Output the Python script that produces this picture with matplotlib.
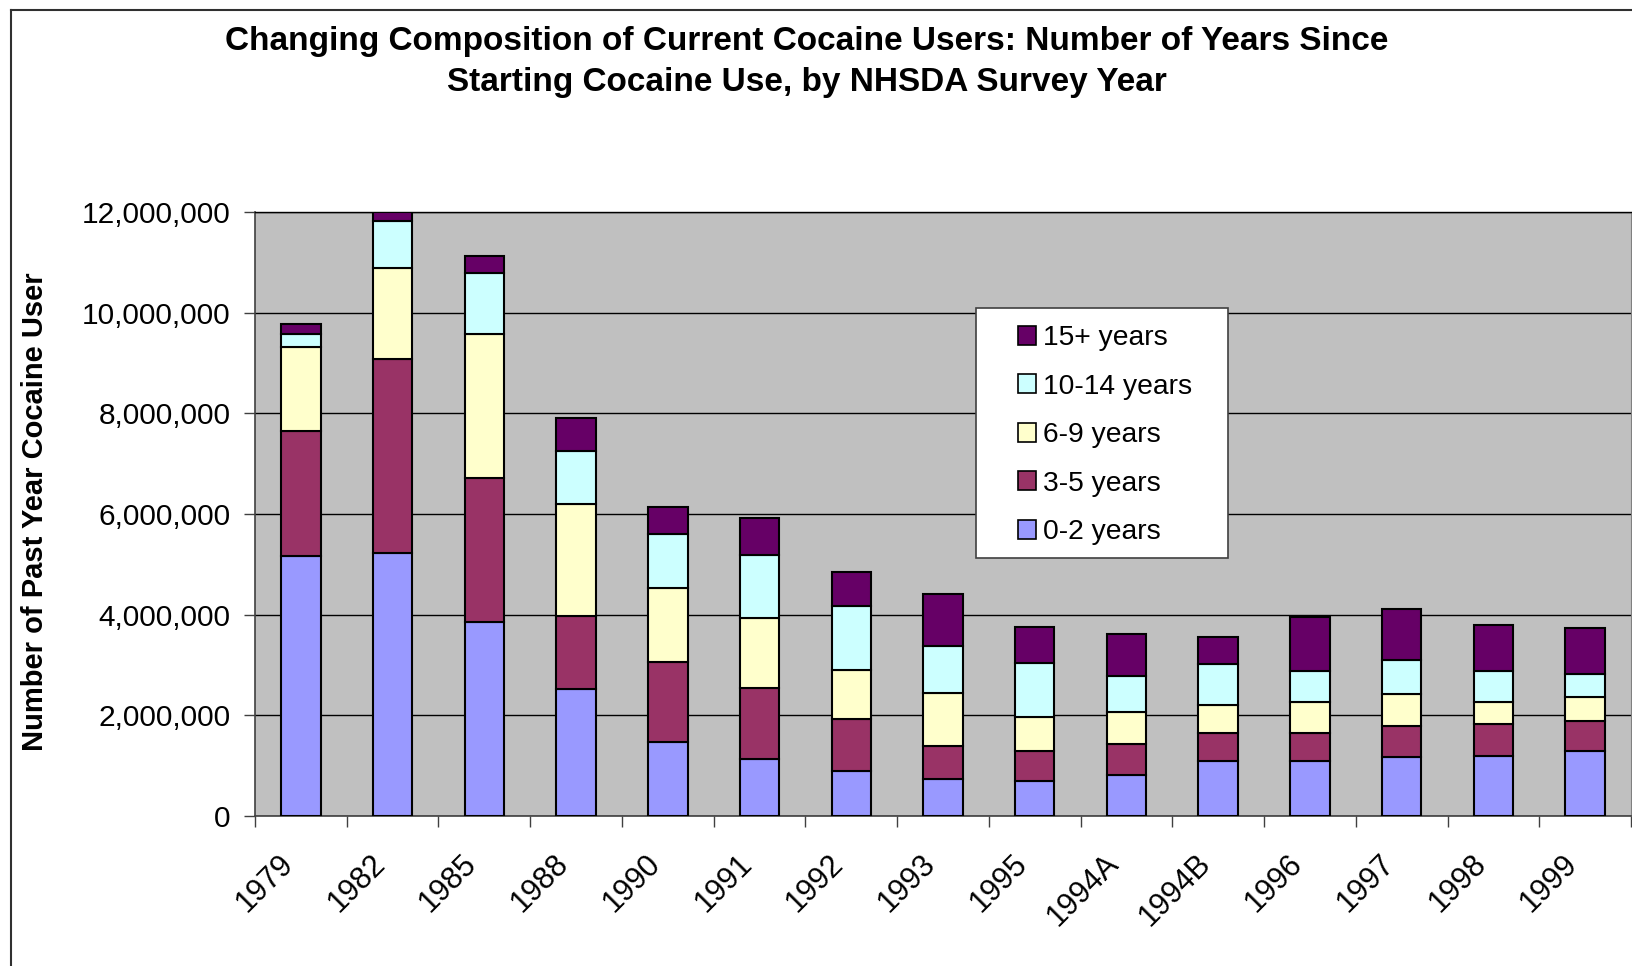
import numpy as np
import matplotlib
matplotlib.use('Agg')
import matplotlib.pyplot as plt
from matplotlib.patches import Rectangle, Patch
from matplotlib.lines import Line2D
from matplotlib.transforms import ScaledTranslation, Bbox

plt.rcParams['font.family'] = ['Liberation Sans', 'DejaVu Sans']

# survey years (category order as in the chart)
years = ['1979', '1982', '1985', '1988', '1990', '1991', '1992', '1993',
         '1995', '1994A', '1994B', '1996', '1997', '1998', '1999']

# number of past year cocaine users, by years since first use
yrs_0_2 = [5.16e6, 5.23e6, 3.86e6, 2.52e6, 1.48e6, 1.13e6, 0.90e6, 0.73e6,
           0.70e6, 0.82e6, 1.10e6, 1.10e6, 1.17e6, 1.20e6, 1.30e6]
yrs_3_5 = [2.49e6, 3.85e6, 2.86e6, 1.45e6, 1.58e6, 1.41e6, 1.03e6, 0.66e6,
           0.60e6, 0.61e6, 0.54e6, 0.54e6, 0.62e6, 0.63e6, 0.59e6]
yrs_6_9 = [1.67e6, 1.81e6, 2.86e6, 2.23e6, 1.47e6, 1.40e6, 0.98e6, 1.05e6,
           0.67e6, 0.64e6, 0.56e6, 0.62e6, 0.64e6, 0.43e6, 0.48e6]
yrs_10_14 = [0.26e6, 0.93e6, 1.20e6, 1.06e6, 1.07e6, 1.25e6, 1.26e6, 0.93e6,
             1.06e6, 0.71e6, 0.82e6, 0.63e6, 0.67e6, 0.63e6, 0.45e6]
yrs_15_plus = [0.20e6, 0.18e6, 0.34e6, 0.65e6, 0.54e6, 0.73e6, 0.68e6, 1.05e6,
               0.72e6, 0.83e6, 0.54e6, 1.07e6, 1.01e6, 0.91e6, 0.92e6]

series = [('0-2 years', yrs_0_2, '#9999FF'),
          ('3-5 years', yrs_3_5, '#993366'),
          ('6-9 years', yrs_6_9, '#FFFFCC'),
          ('10-14 years', yrs_10_14, '#CCFFFF'),
          ('15+ years', yrs_15_plus, '#660066')]

W, H = 1632, 966
fig = plt.figure(figsize=(W / 100, H / 100), dpi=100)
ax = fig.add_axes([255 / W, 1 - 816 / H, 1376 / W, (816 - 212) / H])
ax.set_facecolor('#C0C0C0')

x = np.arange(len(years))
bottom = np.zeros(len(years))
for name, vals, col in series:
    ax.bar(x, vals, 0.43, bottom=bottom, color=col, edgecolor='black',
           linewidth=1.5, label=name, zorder=3)
    bottom += np.array(vals)

ax.set_xlim(-0.5, len(years) - 0.5)
ax.set_ylim(0, 12e6)
yt = np.arange(0, 12e6 + 1, 2e6)
ax.set_yticks(yt)
ax.set_yticklabels([f'{int(v):,}' for v in yt], fontsize=21.5)
ax.yaxis.grid(True, color='black', linewidth=1.0, zorder=1)
ax.set_axisbelow(True)

# labels at category centers, tick marks at category boundaries
ax.set_xticks(x)
ax.set_xticklabels(years, fontsize=22, rotation=45, ha='right', va='center',
                   rotation_mode='anchor')
ax.set_xticks(np.arange(len(years) + 1) - 0.5, minor=True)
ax.tick_params(axis='x', which='major', length=0, pad=31)
ax.tick_params(axis='x', which='minor', length=8, width=1, color='#404040', direction='out')
ax.tick_params(axis='y', length=8, width=1, color='#404040', pad=9.5)
shift = ScaledTranslation(-12 / 100, 0, fig.dpi_scale_trans)
for lab in ax.get_xticklabels():
    lab.set_transform(lab.get_transform() + shift)

for s in ['left', 'bottom']:
    ax.spines[s].set_color('#404040')
    ax.spines[s].set_linewidth(1.2)
ax.spines['top'].set_color('black')
ax.spines['top'].set_linewidth(1.0)
ax.spines['right'].set_color('#808080')

# y label (clipped at the top like the original)
ylab = fig.text(35 / W, 1 - 751 / H, 'Number of Past Year Cocaine Users',
                rotation=90, ha='left', va='center', rotation_mode='anchor',
                fontsize=21, fontweight='bold')
ylab.set_clip_box(Bbox.from_extents(0, 0, 120, H - 273))
ylab.set_clip_on(True)

fig.text(807 / W, 1 - 62 / H,
         'Changing Composition of Current Cocaine Users: Number of Years Since\n'
         'Starting Cocaine Use, by NHSDA Survey Year',
         ha='center', va='center', fontsize=24, fontweight='bold',
         linespacing=1.38)

# legend box
fig.patches.append(Rectangle((976 / W, 1 - 558 / H), (1228 - 976) / W, (558 - 308) / H,
                             transform=fig.transFigure, facecolor='white',
                             edgecolor='#404040', linewidth=1.2, zorder=5))
handles = [Patch(facecolor=col, edgecolor='black', linewidth=1.2, label=name)
           for name, vals, col in series[::-1]]
fig.legend(handles=handles, loc='upper left',
           bbox_to_anchor=(1018 / W, 1 - 325 / H), frameon=False,
           fontsize=20.3, handlelength=0.65, handleheight=0.65,
           handletextpad=0.25, labelspacing=0.8, borderpad=0, borderaxespad=0)

# chart area border
fig.add_artist(Line2D([10.5 / W, 10.5 / W], [0, 1 - 9.5 / H], transform=fig.transFigure,
                      color='#303030', linewidth=1.5))
fig.add_artist(Line2D([10.5 / W, 1], [1 - 9.5 / H, 1 - 9.5 / H], transform=fig.transFigure,
                      color='#303030', linewidth=1.5))

fig.savefig('out.png', dpi=100)
